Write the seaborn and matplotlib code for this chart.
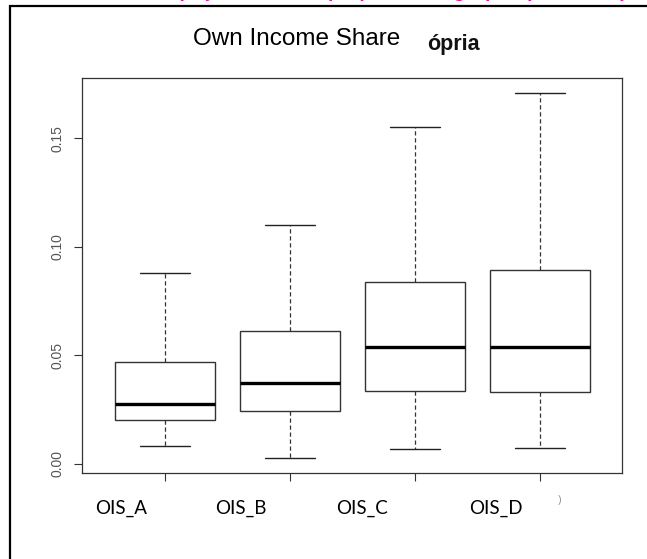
import matplotlib
matplotlib.use("Agg")
import matplotlib.pyplot as plt
import matplotlib.transforms as mtransforms
from matplotlib.patches import Rectangle
import numpy as np
import pandas as pd
import seaborn as sns

# Five-number summaries of the own income share per group
groups = ["OIS_A", "OIS_B", "OIS_C", "OIS_D"]
whisker_low = [0.0083, 0.0026, 0.0066, 0.0071]
q1 = [0.0200, 0.0241, 0.0335, 0.0330]
median = [0.0274, 0.0373, 0.0538, 0.0538]
q3 = [0.0470, 0.0612, 0.0836, 0.0893]
whisker_high = [0.0877, 0.1099, 0.1553, 0.1707]

y_ticks = [0.00, 0.05, 0.10, 0.15]
y_tick_labels = ["0.00", "0.05", "0.10", "0.15"]

# Long-form table: five points per group reproduce the quartiles exactly
rows = []
for g, lo, a, m, b, hi in zip(groups, whisker_low, q1, median, q3, whisker_high):
    for v in (lo, a, m, b, hi):
        rows.append({"group": g, "share": v})
df = pd.DataFrame(rows)

sns.set_theme(style="white")
plt.rcParams["font.family"] = ["Liberation Sans", "DejaVu Sans"]

W, H = 647, 559
fig = plt.figure(figsize=(W / 100, H / 100), dpi=100)
fig.patch.set_facecolor("white")

ax = fig.add_axes([82.3 / W, 1 - 473.3 / H, (621.7 - 82.3) / W, (473.3 - 78.3) / H])

sns.boxplot(
    data=df, x="group", y="share", order=groups, ax=ax,
    whis=(0, 100), width=0.8, color="white", saturation=1,
    linecolor="#333333", linewidth=1.0, showfliers=False,
    medianprops=dict(color="black", linewidth=2.4),
    whiskerprops=dict(color="#333333", linewidth=0.9, linestyle=(0, (3.4, 2.2))),
    capprops=dict(color="#222222", linewidth=1.0),
    boxprops=dict(facecolor="white", edgecolor="#333333", linewidth=1.0),
)

ax.set_xlim(-0.662, 3.653)
ax.set_ylim(-0.0044, 0.1776)
ax.set_xlabel("")
ax.set_ylabel("")

for side in ("left", "right", "top", "bottom"):
    ax.spines[side].set_visible(True)
    ax.spines[side].set_color("#333333")
    ax.spines[side].set_linewidth(0.9)

ax.set_yticks(y_ticks)
ax.set_yticklabels(y_tick_labels, rotation=90, va="center",
                   fontsize=10, color="#555555")
ax.tick_params(axis="both", direction="out", length=6, width=0.8,
               color="#333333", left=True, bottom=True)
ax.tick_params(axis="y", pad=6.5)

# Category labels sit a little left of each tick
ax.set_xticks(range(len(groups)))
ax.set_xticklabels(groups, family=["Lato", "DejaVu Sans"], fontsize=13.5,
                   color="black")
ax.tick_params(axis="x", pad=13)
label_shift_px = [-44, -49, -53, -44]
for lab, dx in zip(ax.get_xticklabels(), label_shift_px):
    lab.set_transform(lab.get_transform()
                      + mtransforms.ScaledTranslation(dx / 100, 0, fig.dpi_scale_trans))

# Title and surrounding text
fig.text(193 / W, 1 - 45 / H, "Own Income Share", fontsize=17.5,
         ha="left", va="baseline", color="black")
fig.text(427 / W, 1 - 50 / H, "ópria", fontsize=15.5, fontweight="bold",
         ha="left", va="baseline", color="#111111")
fig.text(558 / W, 1 - 503 / H, ")", fontsize=8, ha="left", va="baseline",
         color="#999999")

# Heading line above the panel; only its descenders reach into the figure
heading_y = 1 + 3.0 / H
fig.text(328 / W, heading_y, "Participação da renda ", fontsize=14,
         fontweight="bold", ha="right", va="baseline", color="#E0189E")
fig.text(328 / W, heading_y, "própria entre grupos (A, B, C, D)", fontsize=14,
         fontweight="bold", ha="left", va="baseline", color="#E0189E")

# Panel frame
fig.add_artist(Rectangle((10 / W, -0.2), 1.5, 1 - 6 / H + 0.2,
                         transform=fig.transFigure, fill=False,
                         edgecolor="black", linewidth=1.6, clip_on=False))

fig.savefig("out.png", dpi=100)
